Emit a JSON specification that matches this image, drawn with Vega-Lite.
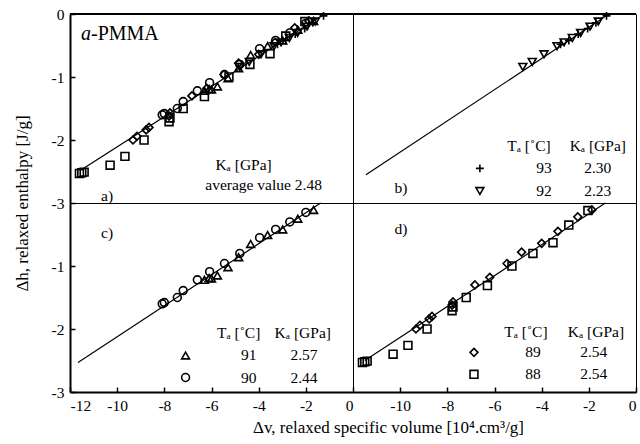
{
  "$schema": "https://vega.github.io/schema/vega-lite/v6.json",
  "padding": {"left": 12, "top": 6, "right": 2, "bottom": 5},
  "datasets": {
    "pts": [
      {"T": "93", "dv": -1.25, "dh": -0.03}, {"T": "93", "dv": -1.7, "dh": -0.14}, {"T": "93", "dv": -2.05, "dh": -0.23},
      {"T": "93", "dv": -2.45, "dh": -0.32}, {"T": "93", "dv": -2.85, "dh": -0.42}, {"T": "93", "dv": -3.2, "dh": -0.48},
      {"T": "92", "dv": -4.8, "dh": -0.84}, {"T": "92", "dv": -4.4, "dh": -0.76}, {"T": "92", "dv": -3.9, "dh": -0.64},
      {"T": "92", "dv": -3.35, "dh": -0.51}, {"T": "92", "dv": -3.05, "dh": -0.45}, {"T": "92", "dv": -2.7, "dh": -0.38},
      {"T": "92", "dv": -2.35, "dh": -0.3}, {"T": "92", "dv": -1.95, "dh": -0.2}, {"T": "92", "dv": -1.6, "dh": -0.12},
      {"T": "91", "dv": -6.3, "dh": -1.22}, {"T": "91", "dv": -6.1, "dh": -1.19}, {"T": "91", "dv": -6.0, "dh": -1.2},
      {"T": "91", "dv": -5.75, "dh": -1.15}, {"T": "91", "dv": -5.3, "dh": -1.02}, {"T": "91", "dv": -4.85, "dh": -0.86},
      {"T": "91", "dv": -4.34, "dh": -0.65}, {"T": "91", "dv": -3.62, "dh": -0.51}, {"T": "91", "dv": -2.98, "dh": -0.42},
      {"T": "91", "dv": -2.34, "dh": -0.25}, {"T": "91", "dv": -1.67, "dh": -0.11},
      {"T": "90", "dv": -8.09, "dh": -1.6}, {"T": "90", "dv": -8.0, "dh": -1.58}, {"T": "90", "dv": -7.45, "dh": -1.5},
      {"T": "90", "dv": -7.2, "dh": -1.39}, {"T": "90", "dv": -6.6, "dh": -1.22}, {"T": "90", "dv": -6.08, "dh": -1.09},
      {"T": "90", "dv": -5.45, "dh": -0.96}, {"T": "90", "dv": -4.8, "dh": -0.8}, {"T": "90", "dv": -3.96, "dh": -0.55},
      {"T": "90", "dv": -3.28, "dh": -0.42}, {"T": "90", "dv": -2.68, "dh": -0.3}, {"T": "90", "dv": -2.0, "dh": -0.15},
      {"T": "89", "dv": -9.33, "dh": -2.0}, {"T": "89", "dv": -9.16, "dh": -1.94}, {"T": "89", "dv": -8.77, "dh": -1.84},
      {"T": "89", "dv": -8.65, "dh": -1.8}, {"T": "89", "dv": -7.8, "dh": -1.62}, {"T": "89", "dv": -7.76, "dh": -1.57},
      {"T": "89", "dv": -6.83, "dh": -1.3}, {"T": "89", "dv": -6.2, "dh": -1.18}, {"T": "89", "dv": -5.47, "dh": -0.96},
      {"T": "89", "dv": -4.85, "dh": -0.78}, {"T": "89", "dv": -4.0, "dh": -0.64}, {"T": "89", "dv": -3.31, "dh": -0.45},
      {"T": "89", "dv": -2.47, "dh": -0.22}, {"T": "89", "dv": -1.87, "dh": -0.11},
      {"T": "88", "dv": -11.6, "dh": -2.53}, {"T": "88", "dv": -11.5, "dh": -2.52}, {"T": "88", "dv": -11.4, "dh": -2.51},
      {"T": "88", "dv": -10.3, "dh": -2.4}, {"T": "88", "dv": -9.67, "dh": -2.26}, {"T": "88", "dv": -8.86, "dh": -2.0},
      {"T": "88", "dv": -7.8, "dh": -1.71}, {"T": "88", "dv": -7.76, "dh": -1.65}, {"T": "88", "dv": -7.2, "dh": -1.5},
      {"T": "88", "dv": -6.3, "dh": -1.31}, {"T": "88", "dv": -5.26, "dh": -1.0}, {"T": "88", "dv": -4.37, "dh": -0.8},
      {"T": "88", "dv": -3.52, "dh": -0.63}, {"T": "88", "dv": -2.85, "dh": -0.35}, {"T": "88", "dv": -2.04, "dh": -0.12}
    ],
    "fit": [
      {"panel": "a", "dv": -11.55, "dh": -2.48}, {"panel": "a", "dv": -1.2, "dh": 0},
      {"panel": "b", "dv": -11.45, "dh": -2.55}, {"panel": "b", "dv": -1.15, "dh": 0},
      {"panel": "c", "dv": -11.66, "dh": -2.53}, {"panel": "c", "dv": -1.37, "dh": 0},
      {"panel": "d", "dv": -11.5, "dh": -2.5}, {"panel": "d", "dv": -1.3, "dh": 0}
    ]
  },
  "columns": 2,
  "bounds": "flush",
  "spacing": 0,
  "concat": [
    {
      "width": 283, "height": 189,
      "layer": [
        {"data": {"name": "fit"}, "transform": [{"filter": "datum.panel == 'a'"}],
         "mark": {"type": "line", "color": "black", "strokeWidth": 1.2},
         "encoding": {
            "x": {"field": "dv", "type": "quantitative", "scale": {"domain": [-12, 0], "nice": false, "zero": false}, "axis": null},
            "y": {"field": "dh", "type": "quantitative", "scale": {"domain": [-3, 0], "nice": false, "zero": false},
                  "axis": {"values": [0, -1, -2, -3], "labelExpr": "'' + datum.value", "title": "Δh, relaxed enthalpy [J/g]",
                           "titleX": -48, "titleY": 189, "titleAlign": "center", "titleBaseline": "middle", "titleAngle": -90}}}},
        {"data": {"values": [{}]}, "mark": {"type": "rule", "color": "black", "strokeWidth": 2},
         "encoding": {"y": {"datum": 0}}},
        {"data": {"name": "pts"},
         "mark": {"type": "point", "filled": false, "stroke": "black", "strokeWidth": 1.6, "size": 62, "opacity": 1},
         "encoding": {
           "x": {"field": "dv", "type": "quantitative", "axis": null},
           "y": {"field": "dh", "type": "quantitative"},
           "shape": {"field": "T", "type": "nominal", "legend": null,
           "scale": {"domain": ["93", "92", "91", "90", "89", "88"], "range": ["M-1,0L1,0M0,-1L0,1", "triangle-down", "triangle-up", "circle", "diamond", "square"]}}}},
        {"data": {"values": [{}]}, "mark": {"type": "text", "text": "a", "fontStyle": "italic", "fontSize": 20, "align": "right", "baseline": "alphabetic"},
         "encoding": {"x": {"datum": -11.11, "axis": null}, "y": {"datum": -0.42}}},
        {"data": {"values": [{}]}, "mark": {"type": "text", "text": "-PMMA", "fontSize": 20, "align": "left", "baseline": "alphabetic"},
         "encoding": {"x": {"datum": -11.11, "axis": null}, "y": {"datum": -0.42}}},
        {"data": {"values": [{}]}, "mark": {"type": "text", "text": "Kₐ [GPa]"},
         "encoding": {"x": {"datum": -4.64, "axis": null}, "y": {"datum": -2.4}}},
        {"data": {"values": [{}]}, "mark": {"type": "text", "text": "average value 2.48"},
         "encoding": {"x": {"datum": -3.79, "axis": null}, "y": {"datum": -2.71}}},
        {"data": {"values": [{}]}, "mark": {"type": "text", "text": "a)"},
         "encoding": {"x": {"datum": -10.43, "axis": null}, "y": {"datum": -2.89}}}
      ]
    },
    {
      "width": 283, "height": 189,
      "layer": [
        {"data": {"name": "fit"}, "transform": [{"filter": "datum.panel == 'b'"}],
         "mark": {"type": "line", "color": "black", "strokeWidth": 1.2},
         "encoding": {
            "x": {"field": "dv", "type": "quantitative", "scale": {"domain": [-12, 0], "nice": false, "zero": false}, "axis": null},
            "y": {"field": "dh", "type": "quantitative", "scale": {"domain": [-3, 0], "nice": false, "zero": false}, "axis": null}}},
        {"data": {"values": [{}]}, "mark": {"type": "rule", "color": "black", "strokeWidth": 2},
         "encoding": {"y": {"datum": 0, "axis": null}}},
        {"data": {"name": "pts"}, "transform": [{"filter": {"field": "T", "oneOf": ["93", "92"]}}],
         "mark": {"type": "point", "filled": false, "stroke": "black", "strokeWidth": 1.6, "size": 62, "opacity": 1},
         "encoding": {
           "x": {"field": "dv", "type": "quantitative", "axis": null},
           "y": {"field": "dh", "type": "quantitative", "axis": null},
           "shape": {"field": "T", "type": "nominal", "legend": null,
           "scale": {"domain": ["93", "92", "91", "90", "89", "88"], "range": ["M-1,0L1,0M0,-1L0,1", "triangle-down", "triangle-up", "circle", "diamond", "square"]}}}},
        {"data": {"values": [{}]}, "mark": {"type": "text", "text": "Tₐ [˚C]"}, "encoding": {"x": {"datum": -4.54, "axis": null}, "y": {"datum": -2.1, "axis": null}}},
        {"data": {"values": [{}]}, "mark": {"type": "text", "text": "Kₐ [GPa]"}, "encoding": {"x": {"datum": -1.62, "axis": null}, "y": {"datum": -2.1, "axis": null}}},
        {"data": {"values": [{}]}, "mark": {"type": "point", "shape": "M-1,0L1,0M0,-1L0,1", "filled": false, "stroke": "black", "strokeWidth": 1.6, "size": 62, "opacity": 1},
         "encoding": {"x": {"datum": -6.62, "axis": null}, "y": {"datum": -2.45, "axis": null}}},
        {"data": {"values": [{}]}, "mark": {"type": "text", "text": "93"}, "encoding": {"x": {"datum": -3.9, "axis": null}, "y": {"datum": -2.45, "axis": null}}},
        {"data": {"values": [{}]}, "mark": {"type": "text", "text": "2.30"}, "encoding": {"x": {"datum": -1.62, "axis": null}, "y": {"datum": -2.45, "axis": null}}},
        {"data": {"values": [{}]}, "mark": {"type": "point", "shape": "triangle-down", "filled": false, "stroke": "black", "strokeWidth": 1.6, "size": 62, "opacity": 1},
         "encoding": {"x": {"datum": -6.62, "axis": null}, "y": {"datum": -2.81, "axis": null}}},
        {"data": {"values": [{}]}, "mark": {"type": "text", "text": "92"}, "encoding": {"x": {"datum": -3.9, "axis": null}, "y": {"datum": -2.81, "axis": null}}},
        {"data": {"values": [{}]}, "mark": {"type": "text", "text": "2.23"}, "encoding": {"x": {"datum": -1.62, "axis": null}, "y": {"datum": -2.81, "axis": null}}},
        {"data": {"values": [{}]}, "mark": {"type": "text", "text": "b)"}, "encoding": {"x": {"datum": -9.97, "axis": null}, "y": {"datum": -2.76, "axis": null}}}
      ]
    },
    {
      "width": 283, "height": 189,
      "layer": [
        {"data": {"name": "fit"}, "transform": [{"filter": "datum.panel == 'c'"}],
         "mark": {"type": "line", "color": "black", "strokeWidth": 1.2},
         "encoding": {
            "x": {"field": "dv", "type": "quantitative", "scale": {"domain": [-12, 0], "nice": false, "zero": false},
                  "axis": {"values": [-12, -10, -8, -6, -4, -2, 0], "labelExpr": "'' + datum.value",
                           "title": "Δv, relaxed specific volume [10⁴.cm³/g]", "titleX": 318, "titleY": 35, "titleAlign": "center", "titleBaseline": "middle"}},
            "y": {"field": "dh", "type": "quantitative", "scale": {"domain": [-3, 0], "nice": false, "zero": false},
                  "axis": {"values": [-1, -2, -3], "labelExpr": "'' + datum.value", "title": null}}}},
        {"data": {"name": "pts"}, "transform": [{"filter": {"field": "T", "oneOf": ["91", "90"]}}],
         "mark": {"type": "point", "filled": false, "stroke": "black", "strokeWidth": 1.6, "size": 62, "opacity": 1},
         "encoding": {
           "x": {"field": "dv", "type": "quantitative"},
           "y": {"field": "dh", "type": "quantitative"},
           "shape": {"field": "T", "type": "nominal", "legend": null,
           "scale": {"domain": ["93", "92", "91", "90", "89", "88"], "range": ["M-1,0L1,0M0,-1L0,1", "triangle-down", "triangle-up", "circle", "diamond", "square"]}}}},
        {"data": {"values": [{}]}, "mark": {"type": "text", "text": "Tₐ [˚C]"}, "encoding": {"x": {"datum": -4.85}, "y": {"datum": -2.06}}},
        {"data": {"values": [{}]}, "mark": {"type": "text", "text": "Kₐ [GPa]"}, "encoding": {"x": {"datum": -2.13}, "y": {"datum": -2.06}}},
        {"data": {"values": [{}]}, "mark": {"type": "point", "shape": "triangle-up", "filled": false, "stroke": "black", "strokeWidth": 1.6, "size": 62, "opacity": 1},
         "encoding": {"x": {"datum": -7.1}, "y": {"datum": -2.42}}},
        {"data": {"values": [{}]}, "mark": {"type": "text", "text": "91"}, "encoding": {"x": {"datum": -4.42}, "y": {"datum": -2.42}}},
        {"data": {"values": [{}]}, "mark": {"type": "text", "text": "2.57"}, "encoding": {"x": {"datum": -2.08}, "y": {"datum": -2.42}}},
        {"data": {"values": [{}]}, "mark": {"type": "point", "shape": "circle", "filled": false, "stroke": "black", "strokeWidth": 1.6, "size": 62, "opacity": 1},
         "encoding": {"x": {"datum": -7.1}, "y": {"datum": -2.77}}},
        {"data": {"values": [{}]}, "mark": {"type": "text", "text": "90"}, "encoding": {"x": {"datum": -4.42}, "y": {"datum": -2.77}}},
        {"data": {"values": [{}]}, "mark": {"type": "text", "text": "2.44"}, "encoding": {"x": {"datum": -2.08}, "y": {"datum": -2.77}}},
        {"data": {"values": [{}]}, "mark": {"type": "text", "text": "c)"}, "encoding": {"x": {"datum": -10.43}, "y": {"datum": -0.48}}}
      ]
    },
    {
      "width": 283, "height": 189,
      "layer": [
        {"data": {"name": "fit"}, "transform": [{"filter": "datum.panel == 'd'"}],
         "mark": {"type": "line", "color": "black", "strokeWidth": 1.2},
         "encoding": {
            "x": {"field": "dv", "type": "quantitative", "scale": {"domain": [-12, 0], "nice": false, "zero": false},
                  "axis": {"values": [-10, -8, -6, -4, -2, 0], "labelExpr": "'' + datum.value", "title": null}},
            "y": {"field": "dh", "type": "quantitative", "scale": {"domain": [-3, 0], "nice": false, "zero": false}, "axis": null}}},
        {"data": {"name": "pts"}, "transform": [{"filter": {"field": "T", "oneOf": ["89", "88"]}}],
         "mark": {"type": "point", "filled": false, "stroke": "black", "strokeWidth": 1.6, "size": 62, "opacity": 1},
         "encoding": {
           "x": {"field": "dv", "type": "quantitative"},
           "y": {"field": "dh", "type": "quantitative", "axis": null},
           "shape": {"field": "T", "type": "nominal", "legend": null,
           "scale": {"domain": ["93", "92", "91", "90", "89", "88"], "range": ["M-1,0L1,0M0,-1L0,1", "triangle-down", "triangle-up", "circle", "diamond", "square"]}}}},
        {"data": {"values": [{}]}, "mark": {"type": "text", "text": "Tₐ [˚C]"}, "encoding": {"x": {"datum": -4.67}, "y": {"datum": -2.05, "axis": null}}},
        {"data": {"values": [{}]}, "mark": {"type": "text", "text": "Kₐ [GPa]"}, "encoding": {"x": {"datum": -1.7}, "y": {"datum": -2.05, "axis": null}}},
        {"data": {"values": [{}]}, "mark": {"type": "point", "shape": "diamond", "filled": false, "stroke": "black", "strokeWidth": 1.6, "size": 62, "opacity": 1},
         "encoding": {"x": {"datum": -6.87}, "y": {"datum": -2.37, "axis": null}}},
        {"data": {"values": [{}]}, "mark": {"type": "text", "text": "89"}, "encoding": {"x": {"datum": -4.37}, "y": {"datum": -2.37, "axis": null}}},
        {"data": {"values": [{}]}, "mark": {"type": "text", "text": "2.54"}, "encoding": {"x": {"datum": -1.79}, "y": {"datum": -2.37, "axis": null}}},
        {"data": {"values": [{}]}, "mark": {"type": "point", "shape": "square", "filled": false, "stroke": "black", "strokeWidth": 1.6, "size": 62, "opacity": 1},
         "encoding": {"x": {"datum": -6.87}, "y": {"datum": -2.72, "axis": null}}},
        {"data": {"values": [{}]}, "mark": {"type": "text", "text": "88"}, "encoding": {"x": {"datum": -4.37}, "y": {"datum": -2.72, "axis": null}}},
        {"data": {"values": [{}]}, "mark": {"type": "text", "text": "2.54"}, "encoding": {"x": {"datum": -1.79}, "y": {"datum": -2.72, "axis": null}}},
        {"data": {"values": [{}]}, "mark": {"type": "text", "text": "d)"}, "encoding": {"x": {"datum": -9.97}, "y": {"datum": -0.42, "axis": null}}}
      ]
    }
  ],
  "config": {
    "background": "white",
    "font": "Liberation Serif",
    "view": {"stroke": "black", "strokeWidth": 1},
    "axis": {
      "domainColor": "black", "domainWidth": 2, "tickColor": "black", "tickSize": -5, "tickWidth": 1.5,
      "labelPadding": 11, "labelFont": "Liberation Serif", "labelFontSize": 15.5, "labelColor": "black",
      "titleFont": "Liberation Serif", "titleFontSize": 17, "titleFontWeight": "normal", "titleColor": "black", "grid": false
    },
    "text": {"font": "Liberation Serif", "fontSize": 15.5, "color": "black"}
  }
}
